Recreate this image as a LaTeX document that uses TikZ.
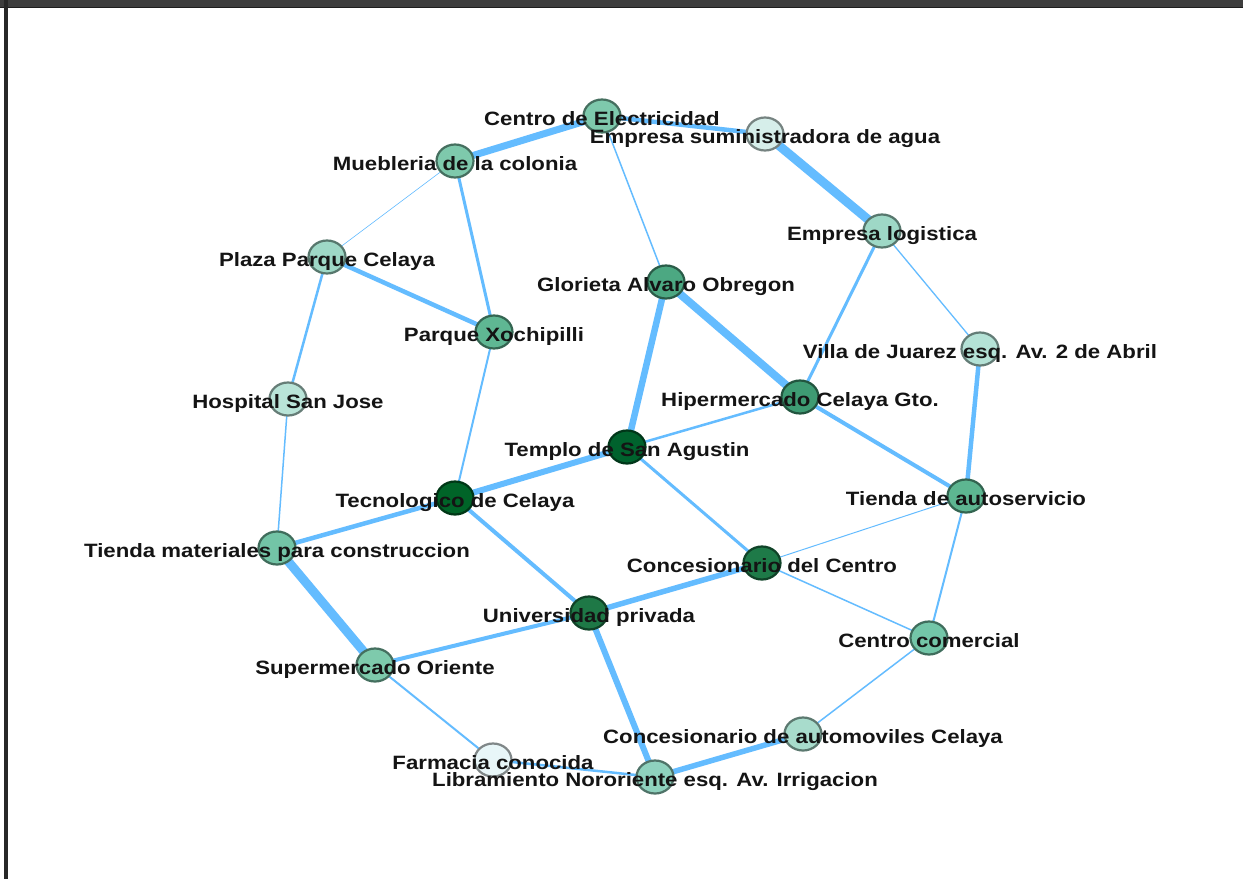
\documentclass[tikz,border=0pt]{standalone}
\usepackage{fontspec}
\newfontfamily\labfont[FakeStretch=1.15]{Liberation Sans Bold}
\usetikzlibrary{shapes.geometric}
\definecolor{edgec}{RGB}{100,188,255}
\definecolor{txtc}{RGB}{20,20,20}
\definecolor{barc}{RGB}{62,62,62}
\definecolor{barline}{RGB}{30,30,30}
\definecolor{sidec}{RGB}{40,40,40}
\tikzset{
  edge/.style={draw=edgec, line width=#1},
  vert/.style={ellipse, minimum width=37pt, minimum height=33pt, inner sep=0pt,
     line width=2.2pt, fill=#1, draw=#1!55!black},
  lab/.style={anchor=base, text=txtc, font=\labfont\fontsize{19.3}{19.3}\selectfont, inner sep=0pt, yshift=-9.5pt}
}
\begin{document}
\begin{tikzpicture}[x=1pt,y=-1pt]
\useasboundingbox (0,0) rectangle (1243,879);
\fill[white] (0,0) rectangle (1243,879);
\fill[barc] (0,0) rectangle (1243,7);
\fill[barline] (0,6.5) rectangle (1243,8);
\fill[sidec] (4,0) rectangle (8,879);

\definecolor{c-ce}{RGB}{126,201,172}
\definecolor{c-es}{RGB}{214,238,234}
\definecolor{c-mu}{RGB}{126,201,172}
\definecolor{c-el}{RGB}{158,216,198}
\definecolor{c-pp}{RGB}{158,216,198}
\definecolor{c-go}{RGB}{76,168,130}
\definecolor{c-px}{RGB}{95,183,147}
\definecolor{c-vj}{RGB}{180,226,214}
\definecolor{c-hs}{RGB}{185,228,216}
\definecolor{c-hi}{RGB}{62,155,115}
\definecolor{c-te}{RGB}{0,98,45}
\definecolor{c-tc}{RGB}{0,100,40}
\definecolor{c-ta}{RGB}{93,182,145}
\definecolor{c-tm}{RGB}{115,196,166}
\definecolor{c-cc}{RGB}{30,122,72}
\definecolor{c-un}{RGB}{30,120,70}
\definecolor{c-cm}{RGB}{115,198,168}
\definecolor{c-so}{RGB}{126,202,172}
\definecolor{c-ca}{RGB}{168,220,204}
\definecolor{c-fa}{RGB}{232,246,248}
\definecolor{c-li}{RGB}{143,210,190}

% vertex positions
\coordinate (ce) at (602,116);
\coordinate (es) at (765,134);
\coordinate (mu) at (455,161);
\coordinate (el) at (882,231);
\coordinate (pp) at (327,257);
\coordinate (go) at (666,282);
\coordinate (px) at (494,332);
\coordinate (vj) at (980,349);
\coordinate (hs) at (288,399);
\coordinate (hi) at (800,397);
\coordinate (te) at (627,447);
\coordinate (tc) at (455,498);
\coordinate (ta) at (966,496);
\coordinate (tm) at (277,548);
\coordinate (cc) at (762,563);
\coordinate (un) at (589,613);
\coordinate (cm) at (929,638);
\coordinate (so) at (375,665);
\coordinate (ca) at (803,734);
\coordinate (fa) at (493,760);
\coordinate (li) at (655,777);

% edges
\draw[edge=7pt] (mu) -- (ce);
\draw[edge=4.5pt] (ce) -- (es);
\draw[edge=9pt] (es) -- (el);
\draw[edge=1.5pt] (ce) -- (go);
\draw[edge=0.6pt] (mu) -- (pp);
\draw[edge=3pt] (mu) -- (px);
\draw[edge=4.5pt] (pp) -- (px);
\draw[edge=2.5pt] (pp) -- (hs);
\draw[edge=2pt] (px) -- (tc);
\draw[edge=1.5pt] (hs) -- (tm);
\draw[edge=3pt] (el) -- (hi);
\draw[edge=1.3pt] (el) -- (vj);
\draw[edge=6.5pt] (go) -- (te);
\draw[edge=8pt] (go) -- (hi);
\draw[edge=2.5pt] (hi) -- (te);
\draw[edge=4pt] (hi) -- (ta);
\draw[edge=4.5pt] (vj) -- (ta);
\draw[edge=6pt] (te) -- (tc);
\draw[edge=3pt] (te) -- (cc);
\draw[edge=4.5pt] (tc) -- (tm);
\draw[edge=4pt] (tc) -- (un);
\draw[edge=1pt] (ta) -- (cc);
\draw[edge=2pt] (ta) -- (cm);
\draw[edge=5.5pt] (cc) -- (un);
\draw[edge=1.5pt] (cc) -- (cm);
\draw[edge=9pt] (tm) -- (so);
\draw[edge=4pt] (un) -- (so);
\draw[edge=6pt] (un) -- (li);
\draw[edge=1.5pt] (cm) -- (ca);
\draw[edge=2pt] (so) -- (fa);
\draw[edge=2.5pt] (fa) -- (li);
\draw[edge=5.5pt] (ca) -- (li);

% vertex circles
\foreach \n in {ce,es,mu,el,pp,go,px,vj,hs,hi,te,tc,ta,tm,cc,un,cm,so,ca,fa,li}
  \node[vert=c-\n] (\n-v) at (\n) {};

% labels
\node[lab] (ce-l) at (ce) {Centro de Electricidad};
\node[lab] (es-l) at (es) {Empresa suministradora de agua};
\node[lab] (mu-l) at (mu) {Muebleria de la colonia};
\node[lab] (el-l) at (el) {Empresa logistica};
\node[lab] (pp-l) at (pp) {Plaza Parque Celaya};
\node[lab] (go-l) at (go) {Glorieta Alvaro Obregon};
\node[lab] (px-l) at (px) {Parque Xochipilli};
\node[lab] (vj-l) at (vj) {Villa de Juarez esq. Av. 2 de Abril};
\node[lab] (hs-l) at (hs) {Hospital San Jose};
\node[lab] (hi-l) at (hi) {Hipermercado Celaya Gto.};
\node[lab] (te-l) at (te) {Templo de San Agustin};
\node[lab] (tc-l) at (tc) {Tecnologico de Celaya};
\node[lab] (ta-l) at (ta) {Tienda de autoservicio};
\node[lab] (tm-l) at (tm) {Tienda materiales para construccion};
\node[lab] (cc-l) at (cc) {Concesionario del Centro};
\node[lab] (un-l) at (un) {Universidad privada};
\node[lab] (cm-l) at (cm) {Centro comercial};
\node[lab] (so-l) at (so) {Supermercado Oriente};
\node[lab] (ca-l) at (ca) {Concesionario de automoviles Celaya};
\node[lab] (fa-l) at (fa) {Farmacia conocida};
\node[lab] (li-l) at (li) {Libramiento Nororiente esq. Av. Irrigacion};
\end{tikzpicture}
\end{document}
